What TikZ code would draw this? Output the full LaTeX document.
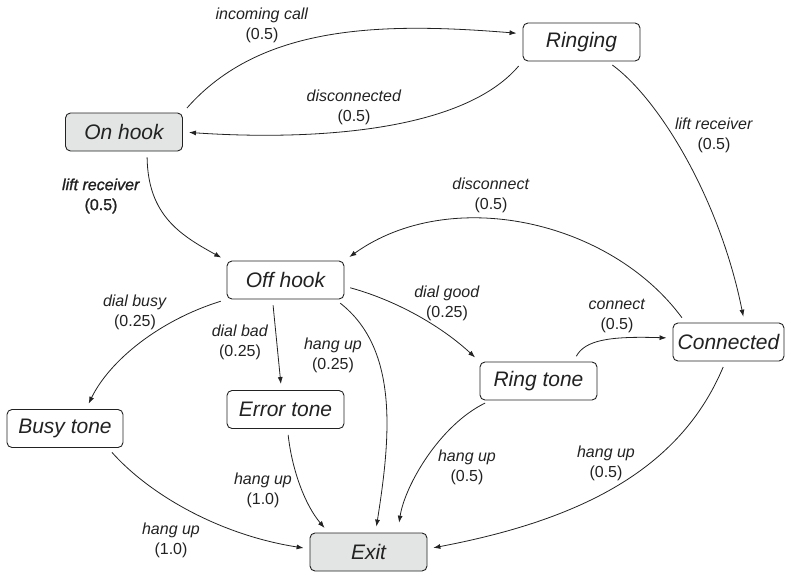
\documentclass[tikz,border=0pt]{standalone}
\usepackage{fontspec}
\setmainfont{Liberation Sans}
\newfontfamily\heavysans[FakeBold=1.2]{Liberation Sans}
\usetikzlibrary{arrows.meta}
\definecolor{ink}{HTML}{222222}
\definecolor{boxgray}{HTML}{E3E5E4}
\begin{document}
\begin{tikzpicture}[x=1pt,y=-1pt,
  state/.style={draw=ink, line width=0.9pt, rounded corners=5pt,
    minimum width=117pt, minimum height=38pt, inner xsep=3pt,
    font=\fontsize{21}{24}\selectfont\itshape, text=ink},
  endstate/.style={state, fill=boxgray},
  lbl/.style={align=center, text=ink, inner sep=0pt,
    font=\fontsize{16}{20}\selectfont},
  trans/.style={draw=ink, line width=0.8pt,
    -{Latex[length=7pt,width=5pt]}, shorten <=6pt, shorten >=6pt}]
\useasboundingbox (0,0) rectangle (785,571);

% states
\node[endstate] (onhook)    at (124,132)   {On hook};
\node[state]    (ringing)   at (581.5,42)  {Ringing};
\node[state]    (offhook)   at (285.5,280) {Off hook};
\node[state, minimum width=111pt] (connected) at (728.5,342) {Connected};
\node[state]    (ringtone)  at (538.5,381) {Ring tone};
\node[state]    (errortone) at (285.5,409.5) {Error tone};
\node[state, minimum width=116pt] (busytone) at (65,428.5) {Busy tone};
\node[endstate] (exit)      at (368.5,552) {Exit};

% transitions
\draw[trans] (onhook.north east) .. controls (260,25) and (380,22) .. (ringing.172);
\draw[trans] (ringing.south west) .. controls (460,135) and (300,140) .. (onhook.east);
\draw[trans] ([xshift=23pt]onhook.south) .. controls (148,215) and (180,235) .. (offhook.north west);
\draw[trans] ([xshift=26pt]ringing.south) .. controls (660,100) and (720,200) .. ([xshift=16pt]connected.north);
\draw[trans] ([xshift=-43pt]connected.north) .. controls (610,220) and (450,185) .. (offhook.north east);
\draw[trans] (offhook.south west) .. controls (160,320) and (110,360) .. ([xshift=21pt]busytone.north);
\draw[trans] ([xshift=-13pt]offhook.south) -- ([xshift=-4pt]errortone.north);
\draw[trans] ([xshift=50pt]offhook.south) .. controls (400,350) and (390,440) .. ([xshift=7pt]exit.north);
\draw[trans] (offhook.-6) .. controls (395,300) and (440,325) .. (ringtone.north west);
\draw[trans] ([xshift=35pt]ringtone.north) .. controls (585,340) and (610,336) .. (connected.176);
\draw[trans] ([xshift=43pt]busytone.south) .. controls (150,495) and (220,535) .. (exit.177);
\draw[trans] ([xshift=2pt]errortone.south) .. controls (292,470) and (305,505) .. ([xshift=-40pt]exit.north);
\draw[trans, shorten >=10pt] ([xshift=-48pt]ringtone.south) .. controls (440,425) and (405,485) .. ([xshift=29pt]exit.north);
\draw[trans] ([xshift=-3pt]connected.south) .. controls (680,470) and (580,520) .. (exit.3);

% transition labels
\node[lbl] (l1)  at (262,25)  {\textit{incoming call}\\(0.5)};
\node[lbl] (l2)  at (354,107) {\textit{disconnected}\\(0.5)};
\node[lbl, font=\fontsize{16}{20}\heavysans] (l3) at (101,196) {\textit{lift receiver}\\(0.5)};
\node[lbl] (l4)  at (714,135) {\textit{lift receiver}\\(0.5)};
\node[lbl] (l5)  at (491,195) {\textit{disconnect}\\(0.5)};
\node[lbl] (l6)  at (135,312) {\textit{dial busy}\\(0.25)};
\node[lbl] (l7)  at (240,342) {\textit{dial bad}\\(0.25)};
\node[lbl] (l8)  at (333,355) {\textit{hang up}\\(0.25)};
\node[lbl] (l9)  at (447,303) {\textit{dial good}\\(0.25)};
\node[lbl] (l10) at (617,316) {\textit{connect}\\(0.5)};
\node[lbl] (l11) at (171,540) {\textit{hang up}\\(1.0)};
\node[lbl] (l12) at (263,490) {\textit{hang up}\\(1.0)};
\node[lbl] (l13) at (467,467) {\textit{hang up}\\(0.5)};
\node[lbl] (l14) at (606,463) {\textit{hang up}\\(0.5)};
\end{tikzpicture}
\end{document}
